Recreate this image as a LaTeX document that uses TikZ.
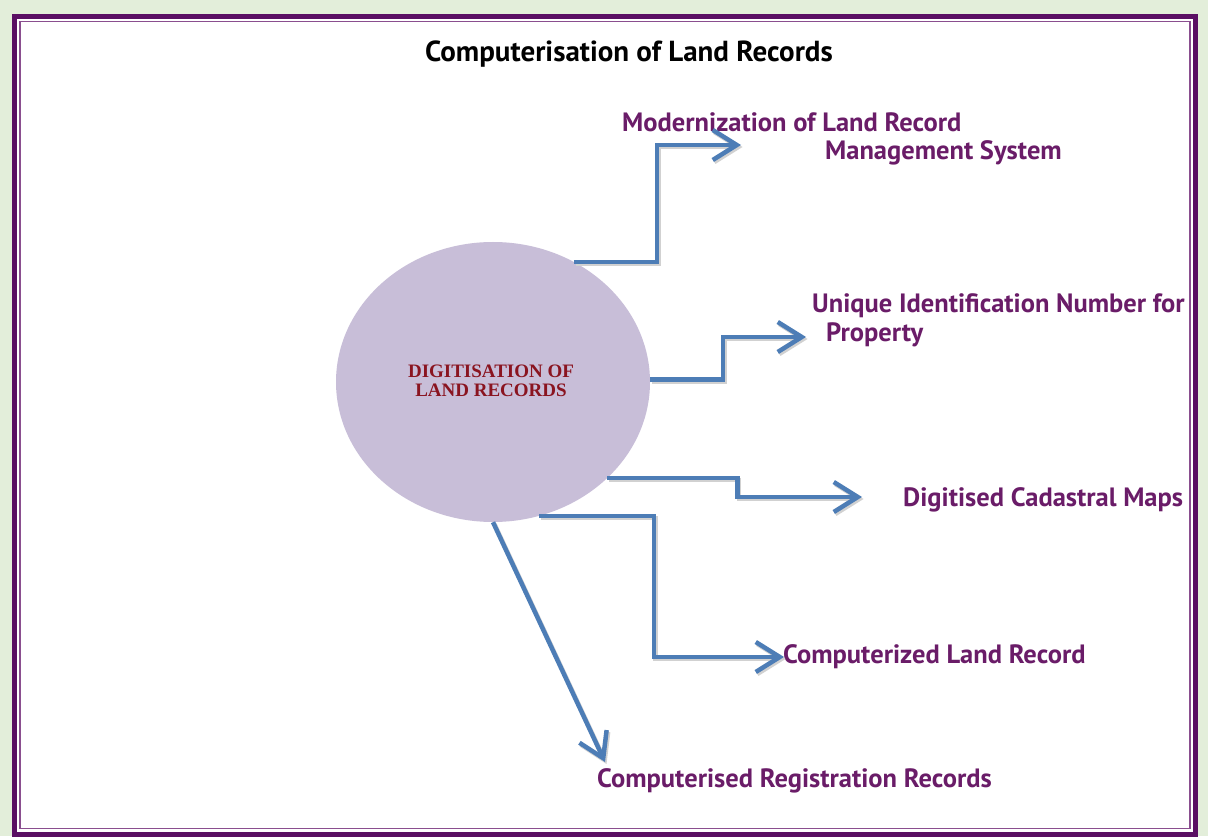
\documentclass[tikz,border=0pt]{standalone}
\usepackage{fontspec}
\setmainfont{PT Sans}
\newfontfamily\hubfont{Liberation Serif}
\usetikzlibrary{arrows.meta,shapes.geometric}

\definecolor{pagegreen}{HTML}{E3EEDA}
\definecolor{framepurple}{HTML}{5A0F63}
\definecolor{frameline}{HTML}{8A4E8F}
\definecolor{hubfill}{HTML}{C8BED8}
\definecolor{hubtext}{HTML}{8A1420}
\definecolor{labelpurple}{HTML}{6A1C68}
\definecolor{arrowblue}{HTML}{4D7DB6}

\tikzset{
  label text/.style={anchor=base west, inner sep=0pt, text=labelpurple,
    font=\bfseries\fontsize{26.5}{30}\selectfont},
  flow/.style={draw=arrowblue, line width=4.5pt, line join=miter,
    -{Straight Barb[length=24pt,width=30pt]},
    preaction={draw=black!18, line width=4.5pt,
      transform canvas={shift={(1.5pt,-2pt)}}}},
}

\begin{document}
\begin{tikzpicture}[x=1pt,y=-1pt]
  % page and frame
  \fill[pagegreen] (0,0) rectangle (1208,836);
  \fill[white] (14.5,16.5) rectangle (1195.5,834);
  \draw[framepurple, line width=5pt] (14.5,16.5) rectangle (1195.5,834);
  \draw[frameline, line width=1.5pt] (20,21.5) rectangle (1190,828.5);
  \useasboundingbox (0,0) rectangle (1208,836);

  % title
  \node[anchor=base west, inner sep=0pt, font=\bfseries\fontsize{29}{32}\selectfont]
    (title) at (425,62) {Computerisation of Land Records};

  % central ellipse
  \node[ellipse, fill=hubfill, minimum width=314pt, minimum height=280pt, inner sep=0pt]
    (hub) at (493,382) {};
  \node[align=center, inner sep=0pt, text=hubtext,
        font=\hubfont\bfseries\fontsize{19}{19}\selectfont]
    (hubtxt) at (491,381) {DIGITISATION OF\\LAND RECORDS};

  % outcome labels
  \node[label text] (m1) at (622,132) {Modernization of Land Record};
  \node[label text] (m2) at (825,160) {Management System};
  \node[label text] (u1) at (812,313) {Unique Identification Number for};
  \node[label text] (u2) at (826,342) {Property};
  \node[label text] (dc) at (903,507) {Digitised Cadastral Maps};
  \node[label text] (cl) at (783,663) {Computerized Land Record};
  \node[label text] (cr) at (597,787) {Computerised Registration Records};

  % arrow tips
  \coordinate (t1) at (741,145);
  \coordinate (t2) at (806,337);
  \coordinate (t3) at (862,497);
  \coordinate (t4) at (784,657);
  \coordinate (t5) at (605,762);

  % connectors
  \draw[flow] (hub.56)  -- ++(83,0)  |- (t1);
  \draw[flow] (hub.1)   -- ++(73,0)  |- (t2);
  \draw[flow] (hub.-40) -- ++(130,0) |- (t3);
  \draw[flow] (hub.-71) -- ++(115,0) |- (t4);
  \draw[flow] (hub.-90) -- (t5);
\end{tikzpicture}
\end{document}
